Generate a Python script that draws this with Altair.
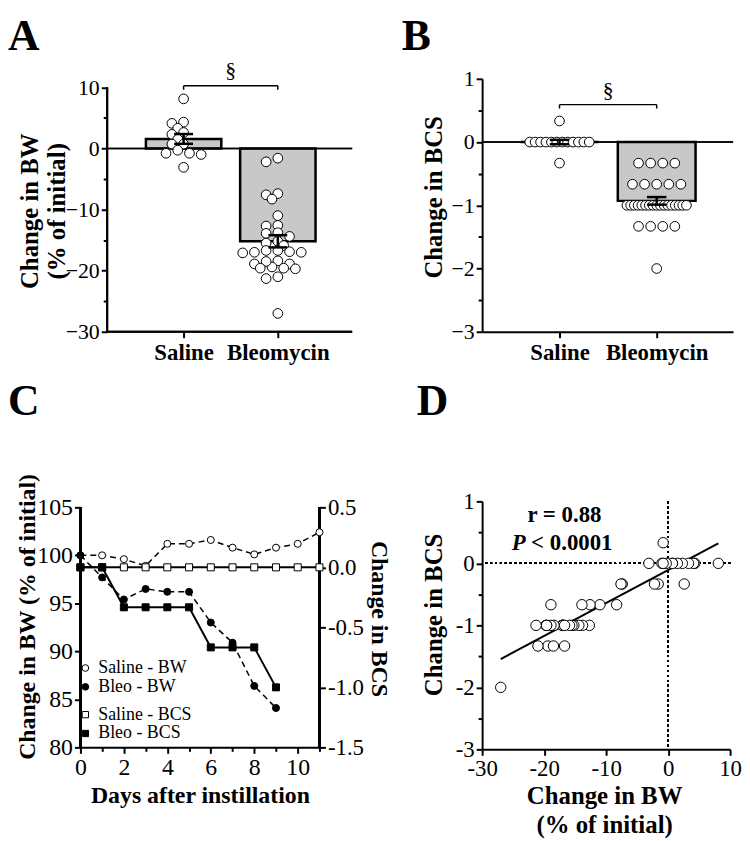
import altair as alt
import pandas as pd

FONT = "Liberation Serif, Times New Roman, serif"

# ---------------- data ----------------
groups = ["Saline", "Bleomycin"]

saline_bw = [8.1, 4.3, 4.1, 3.3, 2.6, 2.3, 1.5, 0.7, 0.7, -0.3, -0.8, -1.0, -0.8, -3.1]
saline_bcs = [0, 0, 0, 0, -0.333, 0, 0, 0, 0, 0, 0.333, 0, 0, 0]

bleo_bw = [-1.6, -2.2, -7.4, -7.6, -8.3, -11.0, -12.6, -12.7, -13.9, -13.8, -14.4,
           -15.2, -15.5, -15.9, -16.7, -16.9, -17.0, -17.1, -17.0, -16.7, -18.4,
           -18.9, -19.4, -18.9, -18.5, -19.6, -19.7, -19.6, -21.0, -21.3, -27.0]
bleo_bcs = [-0.333, -0.333, -0.333, -0.333, -0.667, -0.667, -0.667, -1, -0.667, -1, -1,
            -1, -1, -1, -1.333, -1, -1, -1, -1, -1, -1,
            -0.667, -1.333, -1, -1.333, -1, -1, -1, -1.333, -1, -2]

bw_mean = [1.55, -15.2]
bw_sem = [0.8, 1.0]
bcs_mean = [0.0, -0.93]
bcs_sem = [0.035, 0.06]

days_saline = list(range(12))
days_bleo = list(range(10))
saline_bw_time = [100.0, 100.0, 99.6, 98.9, 101.2, 101.2, 101.6, 100.8, 100.1, 100.8, 101.2, 102.4]
bleo_bw_time = [100.0, 97.7, 95.4, 96.5, 96.2, 96.2, 93.0, 90.9, 86.4, 84.1]
saline_bcs_time = [0.0] * 12
bleo_bcs_time = [0.0, 0.0, -0.333, -0.333, -0.333, -0.333, -0.667, -0.667, -0.667, -1.0]

series_names = ["Saline - BW", "Bleo - BW", "Saline - BCS", "Bleo - BCS"]
corr_text = "r = 0.88"
p_text = "< 0.0001"
sig_mark = "§"

# ---------------- layout ----------------
WA, HA = 274, 255
WB, HB = 253, 255
WC, HC = 241, 248
WD, HD = 250, 250
A_AXIS = 27
LET_FS = 44

A_XDOM = [-0.095, 2.789]
A_YDOM = [-30, 11.38]
B_XDOM = [0.204, 2.786]
B_YDOM = [-3, 1]
C_XDOM = [0, 11]
C_BWDOM = [80, 105.62]
C_BCSDOM = [-1.5, 0.5496]
D_XDOM = [-30, 10]
D_YDOM = [-3, 1]

pxA = WA / (A_XDOM[1] - A_XDOM[0])
pyA = HA / (A_YDOM[1] - A_YDOM[0])
pxB = WB / (B_XDOM[1] - B_XDOM[0])


def swarm_px(values, py, d=11.0, step=5.9, frac=0.66):
    order = sorted(range(len(values)), key=lambda i: -values[i])
    cands = [0]
    for m in range(1, 60):
        cands += [-m, m]
    placed, offs = [], [0.0] * len(values)
    lim = (frac * d) ** 2
    for i in order:
        y = values[i] * py
        x = 0
        for k in cands:
            x = k * step
            if all((x - a) ** 2 + (y - b) ** 2 >= lim for a, b in placed):
                break
        placed.append((x, y))
        offs[i] = x
    return offs


def rows_px(values, d=12.2, span=60.0):
    offs = [0.0] * len(values)
    keys = {}
    for i, v in enumerate(values):
        keys.setdefault(round(v, 3), []).append(i)
    for idx in keys.values():
        n = len(idx)
        sp = min(d, span / (n - 1)) if n > 1 else 0
        for j, i in enumerate(idx):
            offs[i] = (j - (n - 1) / 2) * sp
    return offs


def tick_size(major, big=6, small=4):
    return {"condition": {"test": f"abs(datum.value % {major}) < 1e-6", "value": big}, "value": small}


def major_labels(major, hyphen=False):
    lab = "format(datum.value, 'd')"
    if hyphen:
        lab = f"replace({lab}, '\u2212', '-')"
    return f"abs(datum.value % {major}) < 1e-6 ? {lab} : ''"


AX = dict(grid=False, domainColor="black", domainWidth=2, tickColor="black", tickWidth=2,
          labelColor="black", labelFont=FONT, titleFont=FONT, titleColor="black",
          titleFontWeight="bold", labelOverlap=False, labelFlush=False)

cat_expr = f"datum.value == 1 ? '{groups[0]}' : '{groups[1]}'"


def chan(c, sc, ax):
    def f(field=None, datum=None):
        if datum is not None:
            cls = alt.XDatum if c == "x" else alt.YDatum
            return cls(datum, type="quantitative", scale=sc, axis=ax)
        cls = alt.X if c == "x" else alt.Y
        return cls(field, type="quantitative", scale=sc, axis=ax)
    return f


def letter(ch, x, y):
    return alt.Chart(pd.DataFrame({"t": [ch]})).mark_text(
        text=ch, font=FONT, fontSize=LET_FS, fontWeight="bold", align="left",
        baseline="alphabetic", color="black").encode(x=alt.value(x), y=alt.value(y))


def bar_table(means, sems):
    return pd.DataFrame({
        "pos": [1, 2], "mean": means,
        "lo": [m - s for m, s in zip(means, sems)],
        "hi": [m + s for m, s in zip(means, sems)],
        "xl": [0.6, 1.6], "xr": [1.4, 2.4], "cl": [0.9, 1.9], "cr": [1.1, 2.1]})


def bar_panel(X, Y, bars, pts, bracket_y, tick_y, sig_y, zero_x, zero_x2):
    rect = alt.Chart(bars).mark_rect(fill="#c8c8c8", stroke="black", strokeWidth=2.5).encode(
        x=X("xl"), x2="xr", y=Y("mean"), y2=alt.datum(0))
    zero = alt.Chart(bars).mark_rule(color="black", strokeWidth=1.5).encode(
        y=Y(datum=0), x=alt.value(zero_x), x2=alt.value(zero_x2))
    dots = alt.Chart(pts).mark_point(shape="circle", filled=True, fill="white", stroke="black",
                                     strokeWidth=1, size=95, opacity=1).encode(x=X("x"), y=Y("v"))
    eb = alt.Chart(bars).mark_rule(color="black", strokeWidth=2.5).encode(x=X("pos"), y=Y("lo"), y2="hi")
    cap1 = alt.Chart(bars).mark_rule(color="black", strokeWidth=2.5).encode(x=X("cl"), x2="cr", y=Y("lo"))
    cap2 = alt.Chart(bars).mark_rule(color="black", strokeWidth=2.5).encode(x=X("cl"), x2="cr", y=Y("hi"))
    br = pd.DataFrame({"x": [1.0], "x2": [2.0], "y": [bracket_y], "yt": [tick_y], "xm": [1.5], "ys": [sig_y]})
    brh = alt.Chart(br).mark_rule(color="black", strokeWidth=1.5).encode(x=X("x"), x2="x2", y=Y("y"))
    brt1 = alt.Chart(br).mark_rule(color="black", strokeWidth=1.5).encode(x=X("x"), y=Y("y"), y2="yt")
    brt2 = alt.Chart(br).mark_rule(color="black", strokeWidth=1.5).encode(x=X("x2"), y=Y("y"), y2="yt")
    sig = alt.Chart(br).mark_text(text=sig_mark, font=FONT, fontSize=22, color="black",
                                  baseline="middle").encode(x=X("xm"), y=Y("ys"))
    return [rect, zero, dots, eb, cap1, cap2, brh, brt1, brt2, sig]


# ---------------- Panel A ----------------
axA_y = alt.Axis(**AX, values=[-30, -25, -20, -15, -10, -5, 0, 5, 10], tickSize=tick_size(10),
                 labelExpr=major_labels(10), labelFontSize=22, labelPadding=2, offset=-A_AXIS,
                 domain=False, title=["Change in BW", "(% of initial)"], titleFontSize=25,
                 titleLineHeight=27, titleX=-65, titleY=133, titleBaseline="bottom", titleAngle=270)
axA_x = alt.Axis(**AX, values=[1, 2], labelExpr=cat_expr, tickSize=6, labelFontSize=23,
                 labelFontWeight="bold", labelPadding=4, domain=False, title=None)
XA = chan("x", alt.Scale(domain=A_XDOM, nice=False, zero=False), axA_x)
YA = chan("y", alt.Scale(domain=A_YDOM, nice=False, zero=False), axA_y)

offA = swarm_px(saline_bw, pyA) + swarm_px(bleo_bw, pyA)
ptsA = pd.DataFrame({"v": saline_bw + bleo_bw,
                     "x": [1 + o / pxA for o in offA[:len(saline_bw)]] +
                          [2 + o / pxA for o in offA[len(saline_bw):]]})
barsA = bar_table(bw_mean, bw_sem)
layersA = bar_panel(XA, YA, barsA, ptsA, 10.24, 9.6, 12.85, A_AXIS, WA)
axisA_y = alt.Chart(barsA).mark_rule(color="black", strokeWidth=2).encode(
    x=alt.value(A_AXIS), y=YA(datum=-30), y2=alt.datum(10))
axisA_x = alt.Chart(barsA).mark_rule(color="black", strokeWidth=2).encode(
    y=YA(datum=-30), x=alt.value(A_AXIS), x2=alt.value(WA))
A = alt.layer(*layersA, axisA_y, axisA_x, letter("A", -73, -29)).properties(width=WA, height=HA)

# ---------------- Panel B ----------------
axB_y = alt.Axis(**AX, values=[-3, -2.5, -2, -1.5, -1, -0.5, 0, 0.5, 1], tickSize=tick_size(1),
                 labelExpr=major_labels(1), labelFontSize=22, labelPadding=2,
                 title="Change in BCS", titleFontSize=25, titleX=-36, titleY=119,
                 titleBaseline="bottom", titleAngle=270)
axB_x = alt.Axis(**AX, values=[1, 2], labelExpr=cat_expr, tickSize=6, labelFontSize=23,
                 labelFontWeight="bold", labelPadding=4, title=None)
XB = chan("x", alt.Scale(domain=B_XDOM, nice=False, zero=False), axB_x)
YB = chan("y", alt.Scale(domain=B_YDOM, nice=False, zero=False), axB_y)
offB = rows_px(saline_bcs) + rows_px(bleo_bcs)
ptsB = pd.DataFrame({"v": saline_bcs + bleo_bcs,
                     "x": [1 + o / pxB for o in offB[:len(saline_bcs)]] +
                          [2 + o / pxB for o in offB[len(saline_bcs):]]})
barsB = bar_table(bcs_mean, bcs_sem)
layersB = bar_panel(XB, YB, barsB, ptsB, 0.592, 0.53, 0.827, 0, WB)
B = alt.layer(*layersB, letter("B", -81, -29)).properties(width=WB, height=HB)

# ---------------- Panel C ----------------
axC_x = alt.Axis(**AX, values=list(range(12)), tickSize=tick_size(2), labelExpr=major_labels(2),
                 labelFontSize=24, labelPadding=2, title="Days after instillation", titleFontSize=24,
                 titleX=WC / 2, titleY=37, titleBaseline="top")
axC_l = alt.Axis(**AX, values=[80, 85, 90, 95, 100, 105], tickSize=6, labelFontSize=24,
                 labelPadding=2, domain=False, orient="left",
                 title="Change in BW (% of initial)", titleFontSize=24, titleX=-41, titleY=116,
                 titleBaseline="bottom", titleAngle=270)
axC_r = alt.Axis(**AX, values=[-1.5, -1.0, -0.5, 0.0, 0.5], tickSize=6, labelFontSize=23,
                 labelPadding=2, domain=False, orient="right",
                 labelExpr="replace(format(datum.value, '.1f'), '\u2212', '-')",
                 title="Change in BCS", titleFontSize=24, titleX=47, titleY=118,
                 titleBaseline="bottom", titleAngle=90)
XC = chan("x", alt.Scale(domain=C_XDOM, nice=False, zero=False), axC_x)
YCL = chan("y", alt.Scale(domain=C_BWDOM, nice=False, zero=False), axC_l)
YCR = chan("y", alt.Scale(domain=C_BCSDOM, nice=False, zero=False), axC_r)

dfC_bw = pd.DataFrame({"day": days_saline + days_bleo, "val": saline_bw_time + bleo_bw_time,
                       "series": [series_names[0]] * len(days_saline) + [series_names[1]] * len(days_bleo)})
dfC_bcs = pd.DataFrame({"day": days_saline + days_bleo, "val": saline_bcs_time + bleo_bcs_time,
                        "series": [series_names[2]] * len(days_saline) + [series_names[3]] * len(days_bleo)})

LEG = dict(orient="none", direction="vertical", title=None, symbolStrokeColor="black",
           symbolStrokeWidth=1, labelFont=FONT, labelFontSize=18, labelColor="black",
           rowPadding=1, padding=0, labelOffset=4)

c_bw_line = alt.Chart(dfC_bw).mark_line(color="black", strokeWidth=1.5, strokeDash=[6, 4]).encode(
    x=XC("day"), y=YCL("val"), detail="series:N")
c_bw_pts = alt.Chart(dfC_bw).mark_point(shape="circle", filled=True, stroke="black", strokeWidth=1,
                                        size=50, opacity=1).encode(
    x=XC("day"), y=YCL("val"),
    fill=alt.Fill("series:N", scale=alt.Scale(domain=series_names[:2], range=["white", "black"]),
                  legend=alt.Legend(**LEG, symbolType="circle", symbolSize=45, legendX=-4, legendY=159)))
c_axl = alt.Chart(dfC_bw).mark_rule(color="black", strokeWidth=2).encode(
    x=alt.value(0), y=YCL(datum=80), y2=alt.datum(105))
c_axr = alt.Chart(dfC_bw).mark_rule(color="black", strokeWidth=2).encode(
    x=alt.value(WC), y=YCL(datum=80), y2=alt.datum(105))
c_bcs_line = alt.Chart(dfC_bcs).mark_line(color="black", strokeWidth=2).encode(
    x=XC("day"), y=YCR("val"), detail="series:N")
c_bcs_pts = alt.Chart(dfC_bcs).mark_point(shape="square", filled=True, stroke="black", strokeWidth=1,
                                          size=50, opacity=1).encode(
    x=XC("day"), y=YCR("val"),
    fill=alt.Fill("series:N", scale=alt.Scale(domain=series_names[2:], range=["white", "black"]),
                  legend=alt.Legend(**LEG, symbolType="square", symbolSize=40, legendX=-4, legendY=206)))

C = alt.layer(
    alt.layer(c_bw_line, c_axl, c_axr, c_bw_pts),
    alt.layer(c_bcs_line, c_bcs_pts),
    letter("C", -73, -87),
).resolve_scale(y="independent", fill="independent").properties(width=WC, height=HC)

# ---------------- Panel D ----------------
axD_x = alt.Axis(**AX, values=[-30, -20, -10, 0, 10], tickSize=6, labelFontSize=23, labelPadding=2,
                 labelExpr="replace(format(datum.value, 'd'), '\u2212', '-')",
                 title=["Change in BW", "(% of initial)"], titleFontSize=25, titleLineHeight=29,
                 titleX=123, titleY=35, titleBaseline="top")
axD_y = alt.Axis(**AX, values=[-3, -2.5, -2, -1.5, -1, -0.5, 0, 0.5, 1], tickSize=tick_size(1),
                 labelExpr=major_labels(1, hyphen=True), labelFontSize=23, labelPadding=2,
                 title="Change in BCS", titleFontSize=25, titleX=-36, titleY=114,
                 titleBaseline="bottom", titleAngle=270)
XD = chan("x", alt.Scale(domain=D_XDOM, nice=False, zero=False), axD_x)
YD = chan("y", alt.Scale(domain=D_YDOM, nice=False, zero=False), axD_y)

dfD = pd.DataFrame({"bw": saline_bw + bleo_bw, "bcs": saline_bcs + bleo_bcs})
d_h = alt.Chart(dfD).mark_rule(color="black", strokeWidth=1.5, strokeDash=[2, 3]).encode(y=YD(datum=0))
d_v = alt.Chart(dfD).mark_rule(color="black", strokeWidth=1.5, strokeDash=[2, 3]).encode(x=XD(datum=0))
d_pts = alt.Chart(dfD).mark_point(shape="circle", filled=True, fill="white", stroke="black",
                                  strokeWidth=1, size=110, opacity=1).encode(x=XD("bw"), y=YD("bcs"))
d_reg = alt.Chart(dfD).transform_regression("bw", "bcs").mark_line(color="black", strokeWidth=2).encode(
    x=XD("bw"), y=YD("bcs"))
d_txt = pd.DataFrame({"x": [-16.72], "y": [0.664], "px": [-22.96], "qx": [-22.1], "py": [0.216]})
d_r = alt.Chart(d_txt).mark_text(text=corr_text, font=FONT, fontSize=23, fontWeight="bold",
                                 color="black", align="center", baseline="alphabetic").encode(
    x=XD("x"), y=YD("y"))
d_p = alt.Chart(d_txt).mark_text(text="P", font=FONT, fontSize=23, fontWeight="bold", fontStyle="italic",
                                 color="black", align="right", baseline="alphabetic").encode(
    x=XD("px"), y=YD("py"))
d_q = alt.Chart(d_txt).mark_text(text=p_text, font=FONT, fontSize=23, fontWeight="bold",
                                 color="black", align="left", baseline="alphabetic").encode(
    x=XD("qx"), y=YD("py"))
D = alt.layer(d_h, d_v, d_reg, d_pts, d_r, d_p, d_q, letter("D", -66, -87)).properties(width=WD, height=HD)

chart = alt.concat(A, B, C, D, columns=2, spacing={"row": 171, "column": 131}, bounds="flush").properties(
    padding={"left": 0, "top": 4, "right": 0, "bottom": 0}).configure_view(stroke=None)

chart.save("out.html", embed_options={"renderer": "svg", "actions": False})
